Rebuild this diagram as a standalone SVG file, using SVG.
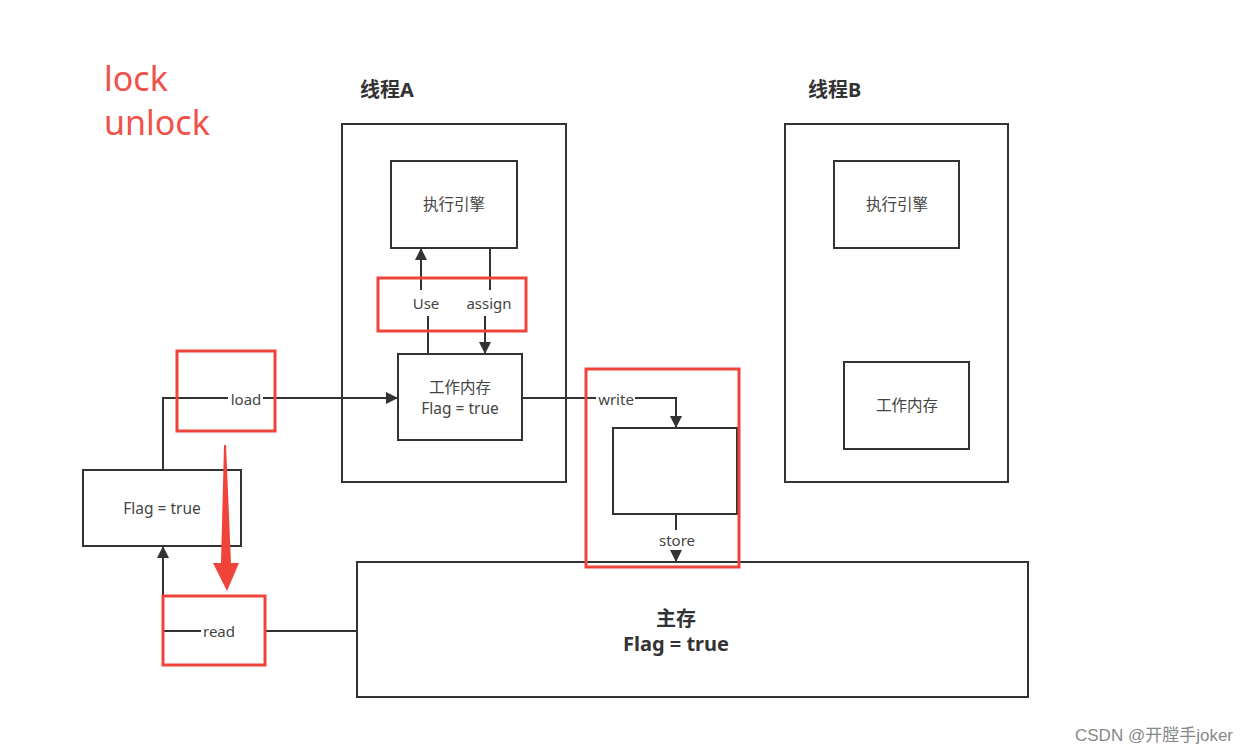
<svg xmlns="http://www.w3.org/2000/svg" width="1256" height="754" viewBox="0 0 1256 754">
<style>
.box{fill:none;stroke:#333;stroke-width:2}
.red{fill:none;stroke:#f0443a;stroke-width:3}
.ln{fill:none;stroke:#333;stroke-width:2}
.t{font-family:"Noto Sans","Noto Sans CJK SC",sans-serif;font-size:15.5px;fill:#444;text-anchor:middle}
.h{font-family:"Noto Sans","Noto Sans CJK SC",sans-serif;font-size:20px;font-weight:bold;fill:#333}
.lk{font-family:"Noto Sans",sans-serif;font-size:34px;fill:#f0524a}
.lbl{font-family:"Noto Sans",sans-serif;font-size:15px;fill:#444;text-anchor:middle}
</style>
<defs>
<marker id="ah" viewBox="0 0 10 10" refX="10" refY="5" markerWidth="6.5" markerHeight="6" orient="auto" markerUnits="strokeWidth">
<path d="M0,0 L10,5 L0,10 Z" fill="#333"/>
</marker>
</defs>
<rect width="1256" height="754" fill="#fff"/>
<text class="lk" x="104" y="91">lock</text>
<text class="lk" x="104" y="135">unlock</text>

<g id="threadA">
<rect class="box" x="342" y="124" width="224" height="358"/>
<text class="h" x="360" y="97">线程A</text>
</g>
<g id="engineA">
<rect class="box" x="391" y="161" width="126" height="87"/>
<text class="t" x="454" y="210">执行引擎</text>
</g>
<g id="workA">
<rect class="box" x="398" y="354" width="124" height="86"/>
<text class="t" x="460" y="393">工作内存</text>
<text class="t" x="460" y="414">Flag = true</text>
</g>
<g id="threadB">
<rect class="box" x="785" y="124" width="223" height="358"/>
<text class="h" x="808" y="97">线程B</text>
</g>
<g id="engineB">
<rect class="box" x="834" y="161" width="125" height="87"/>
<text class="t" x="897" y="210">执行引擎</text>
</g>
<g id="workB">
<rect class="box" x="844" y="362" width="125" height="87"/>
<text class="t" x="907" y="411">工作内存</text>
</g>
<g id="flagLocal">
<rect class="box" x="83" y="470" width="158" height="76"/>
<text class="t" x="162" y="514">Flag = true</text>
</g>
<g id="mainMem">
<rect class="box" x="357" y="562" width="671" height="135"/>
<text class="h" x="676" y="626" text-anchor="middle" font-size="19">主存</text>
<text class="h" x="676" y="651" text-anchor="middle" font-size="21">Flag = true</text>
</g>
<g id="buffer">
<rect class="box" x="613" y="428" width="124" height="86"/>
</g>

<g id="connectors">
<path class="ln" d="M428,354 V316"/>
<path class="ln" d="M421,290 V248" marker-end="url(#ah)"/>
<path class="ln" d="M490,248 V290"/>
<path class="ln" d="M485,316 V354" marker-end="url(#ah)"/>
<path class="ln" d="M163,470 V398 H228"/>
<path class="ln" d="M263,398 H398" marker-end="url(#ah)"/>
<path class="ln" d="M357,631 H264"/>
<path class="ln" d="M201,631 H163 V546" marker-end="url(#ah)"/>
<path class="ln" d="M522,398 H596"/>
<path class="ln" d="M635,398 H676 V428" marker-end="url(#ah)"/>
<path class="ln" d="M676,514 V530"/>
<path class="ln" d="M676,552 V562" marker-end="url(#ah)"/>
<text class="lbl" x="426" y="309">Use</text>
<text class="lbl" x="489" y="309">assign</text>
<text class="lbl" x="246" y="405">load</text>
<text class="lbl" x="219" y="637">read</text>
<text class="lbl" x="616" y="405">write</text>
<text class="lbl" x="677" y="546">store</text>
</g>

<g id="highlights">
<rect class="red" x="378" y="278" width="148" height="53"/>
<rect class="red" x="177" y="351" width="98" height="80"/>
<rect class="red" x="163" y="596" width="102" height="69"/>
<rect class="red" x="586" y="369" width="153" height="198"/>
<polygon points="224,445 226,445 231,563 239,563 227,591 213,563 221,563" fill="#f0443a"/>
</g>

<text x="1154" y="741" font-family="'Liberation Sans','Noto Sans CJK SC',sans-serif" font-size="17" fill="#888" text-anchor="middle">CSDN @开膛手joker</text>
</svg>
